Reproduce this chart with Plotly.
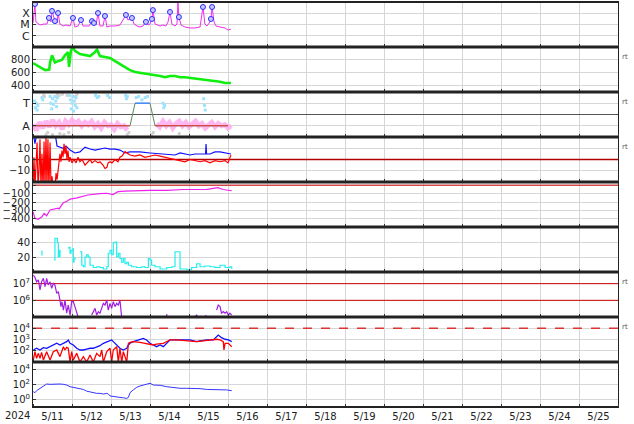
import plotly.graph_objects as go
from plotly.subplots import make_subplots
from datetime import datetime, timedelta

BASE = datetime(2024, 5, 11)
END = datetime(2024, 5, 26)

def T(hours):
    return [BASE + timedelta(hours=h) for h in hours]

# ---------------- data (hours after 2024-05-11 00:00) ----------------
xray_h = [0, 1.2, 1.8, 3.1, 4.3, 6.8, 8.6, 9.8, 11.1, 11.7, 12.9, 13.5, 14.8, 15.4, 16.6, 18.5, 20.3, 22.8, 24.6, 25.8,
          27.7, 29.5, 30.8, 32.6, 34.5, 36.3, 37.5, 38.8, 40.0, 41.2, 43.1, 44.3, 45.5, 47.4, 50.5, 53.5, 57.2, 58.5,
          60.9, 62.2, 64.0, 65.8, 67.7, 69.5, 70.8, 72.0, 73.2, 73.8, 75.1, 76.9, 78.2, 80.0, 81.8, 83.1, 84.3, 85.5,
          87.4, 88.6, 89.2, 89.8, 91.1, 93.5, 96.6, 99.7, 102.8, 104.6, 105.8, 107.1, 108.9, 109.5, 110.2, 111.4,
          112.6, 115.1, 118.2, 120.0, 121.8]
xray_v = [1.35e-5, 6.6e-4, 1.7e-5, 1.1e-5, 9e-6, 1.1e-5, 1.1e-5, 3.8e-5, 1.7e-5, 1.6e-4, 2.5e-5, 2.0e-5, 1.35e-5,
          1.05e-4, 1.1e-5, 7.4e-6, 9e-6, 7.4e-6, 3.8e-5, 6e-6, 7.4e-6, 2.5e-5, 7.4e-6, 7.4e-6, 7.4e-6, 2.0e-5,
          1.35e-5, 9e-6, 1.05e-4, 7.4e-6, 7.4e-6, 5.7e-5, 6e-6, 7.4e-6, 7.4e-6, 9e-6, 7e-5, 2.5e-5, 3.8e-5, 1.1e-5,
          7.4e-6, 6e-6, 7.4e-6, 1.7e-5, 9e-6, 1.1e-5, 3.1e-5, 1.9e-4, 1.1e-5, 9e-6, 7.4e-6, 9e-6, 7.4e-6, 1.7e-5,
          1.3e-4, 1.1e-5, 7.4e-6, 1.1e-5, 1e-3, 4.6e-5, 9e-6, 6e-6, 4.9e-6, 4.9e-6, 6e-6, 3.6e-4, 1.1e-5, 7.4e-6,
          1.7e-5, 3.1e-5, 3.6e-4, 1.7e-5, 7.4e-6, 6e-6, 4.9e-6, 3.2e-6, 4e-6]
flare_h = [1.2, 9.8, 11.7, 13.5, 15.4, 24.6, 29.5, 36.3, 37.5, 40.0, 44.3, 57.2, 60.9, 69.5, 73.2, 73.8, 84.3, 89.2,
           89.8, 104.6, 109.5, 110.2]
flare_v = [6.6e-4, 3.8e-5, 1.6e-4, 2.0e-5, 1.05e-4, 3.8e-5, 2.5e-5, 2.0e-5, 1.35e-5, 1.05e-4, 5.7e-5, 7e-5, 3.8e-5,
           1.7e-5, 3.1e-5, 1.9e-4, 1.3e-4, 1e-3, 4.6e-5, 3.6e-4, 3.1e-5, 3.6e-4]

speed_h = [0, 4.3, 7.4, 10.0, 10.5, 11.7, 12.3, 13.5, 15.4, 17.8, 19.7, 21.5, 22.2, 22.8, 23.4, 24.6, 25.8, 28.9, 32.0,
           35.1, 38.2, 39.4, 41.2, 44.3, 47.4, 50.5, 53.5, 56.6, 59.7, 62.8, 65.8, 68.9, 72.0, 75.1, 78.2, 81.2, 84.3,
           87.4, 90.5, 93.5, 96.6, 99.7, 102.8, 105.8, 108.9, 112.0, 115.1, 118.2, 121.8]
speed_v = [750, 690, 640, 650, 760, 870, 820, 760, 780, 800, 870, 920, 690, 900, 950, 990, 940, 890, 880, 860, 920, 960,
           860, 840, 830, 780, 730, 690, 640, 610, 600, 580, 570, 560, 550, 530, 550, 550, 530, 530, 520, 520, 500, 500,
           490, 470, 460, 440, 440]

tow_h = [1.0, 1.5, 2.0, 2.5, 3.0, 5.5, 6.0, 10.5, 11.0, 11.5, 12.0, 12.5, 13.5, 14.0, 14.5, 15.0, 22.5, 23.0, 23.5,
         24.0, 24.5, 25.0, 25.5, 26.0, 26.5, 27.0, 38.5, 39.5, 40.5, 46.0, 47.0, 57.0, 57.5, 58.0, 63.5, 65.0, 67.0,
         69.0, 70.5, 80.0, 80.5, 81.0, 105.0, 105.5, 106.0]
tow_v = [1.2, 0.6, 1.0, 0.4, 0.8, 1.5, 1.3, 1.6, 1.0, 0.5, 1.4, 0.9, 1.6, 1.2, 0.7, 1.5, 1.7, 1.3, 0.5, 1.0, 1.6, 0.3,
         1.2, 0.8, 1.5, 0.6, 1.7, 1.5, 1.6, 1.7, 1.5, 1.7, 1.4, 1.6, 1.5, 1.6, 1.3, 1.5, 1.6, 1.0, 0.6, 0.8, 1.4, 0.8,
         0.4]
away_h = [0, 2, 4, 6, 8, 10, 12, 14, 16, 18, 20, 22, 24, 26, 28, 30, 32, 34, 36, 38, 40, 42, 44, 46, 48, 50, 52, 54,
          56, 58, 67, 76, 78, 80, 82, 84, 86, 88, 90, 92, 94, 96, 98, 100, 102, 104, 106, 108, 110, 112, 114, 116, 118,
          120, 122]
away_v = [-0.9, -1.4, -0.7, -1.2, -0.6, -1.1, -0.5, -1.0, -0.7, -1.3, -0.6, -0.9, -0.5, -0.8, -0.6, -1.0, -0.7, -0.9,
          -0.6, -1.1, -0.8, -1.2, -0.7, -1.0, -0.9, -1.3, -0.8, -1.1, -1.0, -1.4, None, -0.8, -1.1, -0.6, -1.0, -0.7,
          -1.2, -0.8, -0.6, -1.0, -0.7, -1.1, -0.9, -0.6, -1.0, -0.8, -1.2, -0.9, -0.7, -1.1, -0.8, -1.0, -0.9, -1.2,
          -1.0]
gray_h = [6.5, 7.0, 15.0, 16.0, 18.0, 21.0, 26.0, 27.0, 8.0, 9.0, 12.0, 16.5, 19.0, 22.0, 58.0, 59.0, 73.0, 74.0, 90.0]
gray_v = [1.7, 1.6, 1.8, 1.7, 1.8, 1.7, 1.6, 1.8, -1.8, -1.6, -1.8, -1.7, -1.8, -1.6, -1.8, -1.6, -1.8, -1.6, -1.7]
sector_h = [0, 59.7, 62.8, 72.0, 75.1, 120.0]
sector_v = [-1, -1, 1, 1, -1, -1]

bt_h = [0, 1.2, 2.5, 4.3, 6.8, 9.2, 11.1, 13.5, 14.8, 16.6, 18.5, 20.3, 22.2, 22.8, 25.8, 28.9, 32.0, 35.1, 38.2, 41.2,
        44.3, 47.4, 50.5, 53.5, 56.6, 59.7, 65.8, 72.0, 78.2, 84.3, 87.4, 90.5, 93.5, 96.6, 99.7, 102.8, 106.2, 106.5,
        106.8, 108.9, 112.0, 115.1, 118.2, 121.8]
bt_v = [25, 14, 24, 22, 25, 20, 22, 24, 12, 11, 10, 12, 9, 8.4, 5.8, 6.7, 11, 9.3, 8.4, 9.3, 10.2, 9.3, 9.3, 8.4, 5.8,
        6.7, 6.7, 5.8, 4.9, 4, 4, 5.8, 4.9, 4, 4.9, 4.9, 4.9, 13.8, 4.9, 4.9, 6.7, 6.7, 5.8, 4.9]
bz_h = [0, 0.6, 1.2, 1.8, 2.5, 3.1, 3.7, 4.3, 4.9, 5.5, 6.2, 6.8, 7.4, 8.0, 8.6, 9.2, 9.8, 10.5, 11.1, 11.7, 12.3, 13.5,
        14.2, 14.8, 15.4, 16.0, 16.6, 17.2, 17.8, 18.5, 19.1, 19.7, 20.3, 20.9, 21.5, 22.2, 22.8, 24.0, 25.2, 26.5,
        27.7, 28.9, 30.2, 32.0, 33.8, 35.1, 36.3, 38.2, 40.0, 41.2, 43.1, 44.3, 45.5, 46.2, 47.4, 48.6, 50.5, 52.3,
        53.5, 54.8, 56.6, 59.7, 62.8, 65.8, 68.9, 72.0, 75.1, 78.2, 81.2, 84.3, 87.4, 90.5, 93.5, 96.6, 99.7, 102.8,
        105.8, 108.9, 112.0, 115.1, 118.2, 120.0, 121.8]
bz_v = [-25, 2, -25, -5, 15, -25, -10, 18, -25, 5, -25, 16, -25, 22, -25, 18, -25, 15, -25, -15, -25, -25, -12, -18,
        -8, 0, 5, -2, 8, 2, 14, 5, 12, 0, 8, -2, 2, -3, 0, -3, 2, -2, 0, -5, -2, 0, -3, -1, -3, -2, -5, -8, -7, -3, -2,
        -3, 0, -2, 2, 3, 7, 4, 3, 4, 2, 3, 4, 3, 2, 1, 0, -1, -2, 0, -1, -2, -1, -3, -1, -2, -1, -3, 4]

dst_h = [0, 1.2, 3.1, 5.5, 6.8, 8.4, 10.5, 12.3, 15.4, 16.0, 18.5, 20.9, 22.8, 27.1, 30.8, 33.8, 41.2, 45.5, 49.2, 52.3,
         56.6, 61.5, 72.0, 82.5, 92.3, 102.8, 107.1, 113.8, 116.9, 122.3]
dst_v = [-317, -396, -408, -377, -336, -365, -296, -290, -273, -285, -213, -190, -165, -150, -136, -116, -100, -95,
         -110, -76, -70, -66, -60, -60, -50, -50, -48, -28, -50, -65]

ae_h = [5.2, 5.5, 6.0, 12.8, 13.5, 14.6, 15.0, 15.6, 16.2, 16.6, 17.5, 21.5, 22.2, 22.8, 23.4, 24.4, 24.8, 25.2, 25.8,
        27.0, 28.9, 30.0, 31.0, 32.0, 33.0, 34.0, 35.1, 37.1, 39.2, 41.2, 43.3, 45.4, 46.3, 47.4, 48.4, 49.4, 50.5,
        51.5, 52.5, 53.5, 54.6, 55.6, 56.6, 57.7, 58.7, 60.7, 63.8, 66.9, 68.9, 71.0, 72.0, 73.0, 75.1, 78.2, 82.3,
        85.4, 87.4, 89.5, 90.5, 94.6, 97.6, 100.7, 102.8, 105.8, 108.9, 112.0, 115.1, 118.2, 121.2, 122.3]
ae_v = [28, 22, None, 16, 45, 45, 39, 20, 29, 20, None, 32, 33, 25, 29, 31, 13, 17, 20, None, 27, 9, 7, 20, 23, 20, 9,
        6, 7, 6, 4, 7, 25, 29, 23, 39, 40, 20, 25, 18, 13, 18, 11, 13, 9, 7, 6, 7, 6, 18, 16, 9, 7, 4, 6, 7, 27, 27, 4,
        3, 6, 11, 7, 8, 7, 6, 9, 6, 7, 4]

el_h = [0.2, 1.2, 2.2, 3.3, 4.3, 5.3, 6.4, 7.4, 8.4, 9.4, 10.5, 11.5, 12.5, 13.5, 14.6, 15.6, 16.6, 17.2, 17.8, 18.7,
        19.7, 20.7, 21.7, 22.8, 23.8, 24.8, 25.8, 26.9, 27.9, 32.0, 36.1, 37.1, 38.2, 39.2, 40.2, 41.2, 42.3, 43.3,
        44.3, 45.4, 46.3, 47.4, 48.4, 49.4, 50.5, 51.5, 52.5, 53.5, 54.6, 70.0, 82.2, 82.4, 90.0, 100.0, 100.6, 101.2,
        103.0, 106.0, 106.8, 110.0, 113.0, 114.0, 115.1, 116.0, 117.1, 118.2, 119.2, 120.2, 121.2, 122.3]
el_v = [3.3e7, 2.4e7, 1.3e7, 1.7e7, 4.2e6, 1.3e7, 2.1e7, 6.6e6, 2.1e7, 8.3e6, 1.3e7, 5.2e6, 1.05e7, 8.3e6, 2.6e6,
        3.3e6, 1.05e6, 4.2e5, 8.3e5, 2.6e5, 1.05e6, 1.7e5, 5.2e5, 1.3e5, 8.3e5, 8.3e5, 4.2e5, 2.1e5, 9e4, None, 1.3e5,
        2.1e5, 3.3e5, 1.3e5, 2.1e5, 1.7e5, 3.3e5, 6.6e5, 5.2e5, 1.05e6, 2.6e5, 6.6e5, 3.3e5, 8.3e5, 4.2e5, 6.6e5,
        5.2e5, 1.05e6, 9e4, None, 1.1e5, 1.5e5, None, 1.2e5, 1.3e5, 1.1e5, None, 1.2e5, 1.2e5, None, 2.6e5, 5.2e5,
        4.2e5, 1.7e5, 2.1e5, 1.7e5, 2.1e5, 1.3e5, 1.7e5, 1.3e5]

pb_h = [0.2, 2.2, 4.3, 6.4, 8.4, 10.5, 12.5, 14.6, 16.6, 18.7, 20.7, 21.7, 22.8, 24.8, 26.9, 28.9, 31.0, 33.0, 35.1,
        37.1, 39.2, 41.2, 43.3, 45.4, 47.4, 48.4, 49.4, 51.5, 53.5, 55.6, 57.7, 58.7, 59.7, 61.7, 64.8, 67.9, 69.9,
        72.0, 74.0, 76.0, 78.2, 80.2, 83.3, 84.3, 88.4, 92.5, 96.6, 100.7, 102.8, 106.9, 111.0, 114.0, 116.0, 118.2,
        120.2, 122.3]
pb_v = [117, 166, 117, 186, 166, 230, 325, 460, 325, 460, 650, 910, 460, 325, 166, 117, 117, 140, 166, 166, 230, 280,
        460, 650, 770, 910, 650, 325, 166, 117, 166, 325, 460, 650, 910, 1260, 910, 460, 325, 230, 325, 230, 650, 910,
        910, 910, 910, 650, 770, 910, 910, 2500, 1450, 1050, 910, 650]
pr_h = [0.2, 1.2, 2.2, 3.3, 4.3, 5.3, 6.4, 8.4, 10.5, 12.5, 14.6, 16.6, 18.7, 19.7, 20.7, 21.7, 22.8, 23.8, 24.8, 26.9,
        28.9, 31.0, 33.0, 35.1, 37.1, 39.2, 41.2, 42.3, 43.3, 45.4, 47.4, 48.4, 49.4, 51.5, 52.5, 53.5, 54.6, 55.6,
        57.7, 58.7, 59.7, 61.7, 65.8, 69.9, 74.0, 76.0, 80.2, 83.3, 84.3, 88.4, 92.5, 96.6, 100.7, 104.8, 108.9,
        113.0, 115.1, 117.1, 117.5, 118.2, 120.2, 122.3]
pr_v = [15, 83, 21, 59, 21, 72, 15, 83, 15, 83, 117, 30, 230, 117, 200, 166, 10, 83, 15, 59, 10, 30, 10, 42, 10, 59,
        30, 117, 10, 83, 166, 10, 117, 230, 10, 166, 10, 83, 10, 460, 560, 650, 560, 460, 325, 390, 460, 770, 910, 910,
        820, 770, 650, 770, 910, 1050, 910, 650, 117, 460, 460, 230]

p9_h = [0.2, 1.2, 2.2, 4.3, 6.4, 8.4, 10.5, 12.5, 14.6, 16.6, 18.7, 20.7, 22.8, 24.8, 26.9, 28.9, 31.0, 33.0, 35.1,
        37.1, 39.2, 41.2, 43.3, 45.4, 46.3, 47.4, 49.4, 51.5, 53.5, 55.6, 57.7, 58.7, 59.7, 61.7, 63.8, 65.8, 67.9,
        69.9, 72.0, 74.0, 76.0, 78.2, 82.3, 86.4, 90.5, 94.6, 98.7, 102.8, 106.9, 111.0, 115.1, 119.2, 122.3]
p9_v = [11, 8, 15, 31, 63, 117, 105, 117, 105, 117, 105, 85, 51, 42, 31, 25, 22, 13, 10, 8, 6.6, 6.6, 5.4, 6.6, 5.4, 3,
        2.4, 2.4, 1.9, 1.7, 1.4, 1.9, 8, 19, 42, 63, 85, 117, 145, 85, 85, 78, 51, 38, 31, 31, 31, 28, 22, 22, 19, 19,
        15]

day_labels = ["5/11", "5/12", "5/13", "5/14", "5/15", "5/16", "5/17", "5/18", "5/19", "5/20", "5/21", "5/22",
              "5/23", "5/24", "5/25"]

# ---------------- figure ----------------
fig = make_subplots(rows=9, cols=1, shared_xaxes=True, vertical_spacing=0)

def line(h, v, row, color, width=1.0, shape="linear"):
    fig.add_trace(go.Scatter(x=T(h), y=v, mode="lines", line=dict(color=color, width=width, shape=shape),
                             hoverinfo="skip", showlegend=False), row=row, col=1)

def hline(val, row, color, width=1.0, dash="solid"):
    fig.add_trace(go.Scatter(x=[BASE, END], y=[val, val], mode="lines",
                             line=dict(color=color, width=width, dash=dash),
                             hoverinfo="skip", showlegend=False), row=row, col=1)

# 1 X-ray
line(xray_h, xray_v, 1, "#f030f0", 1.0)
fig.add_trace(go.Scatter(x=T(flare_h), y=flare_v, mode="markers", cliponaxis=False,
                         marker=dict(size=5, color="#c8c8ff", line=dict(color="#2a2aff", width=1)),
                         hoverinfo="skip", showlegend=False), row=1, col=1)
# 2 speed
line(speed_h, speed_v, 2, "#10ee10", 2.6)
# 3 sector
fig.add_trace(go.Scatter(x=T(gray_h), y=gray_v, mode="markers", marker=dict(size=3, color="#d0d0d0", symbol="square"),
                         hoverinfo="skip", showlegend=False), row=3, col=1)
line(away_h, away_v, 3, "rgba(255,170,240,0.85)", 5)
fig.add_trace(go.Scatter(x=T(tow_h), y=tow_v, mode="markers", marker=dict(size=3, color="#9fe2fb", symbol="square"),
                         hoverinfo="skip", showlegend=False), row=3, col=1)
line(sector_h, sector_v, 3, "#5a8a5a", 1.0)
line(sector_h[0:2], sector_v[0:2], 3, "#ee3333", 1.2)
line(sector_h[2:4], sector_v[2:4], 3, "#4a8cff", 1.5)
line(sector_h[4:6], sector_v[4:6], 3, "#ee3333", 1.2)
# 4 IMF
hline(0, 4, "#b00000", 1.5)
line(bt_h, bt_v, 4, "#1010ff", 1.2)
line(bz_h, bz_v, 4, "#ff0000", 1.2)
# 5 Dst
hline(0, 5, "#d04848", 1.5)
line(dst_h, dst_v, 5, "#ee22ee", 1.2)
# 6
line(ae_h, ae_v, 6, "#22eeee", 1.2, "hv")
# 7 electrons
hline(1e7, 7, "#cc0000", 1)
hline(1e6, 7, "#cc0000", 1)
line(el_h, el_v, 7, "#a020e0", 1.2)
# 8 protons
hline(1e4, 8, "#dd3333", 1.5, "dash")
line(pb_h, pb_v, 8, "#1010ff", 1.3)
line(pr_h, pr_v, 8, "#ff0000", 1.3)
# 9
line(p9_h, p9_v, 9, "#3535ff", 1.0)

grid = "#d6d6d6"
axis_common = dict(showline=True, linecolor="#222", linewidth=1, mirror=True, ticks="inside", ticklen=3,
                   tickcolor="#333", showgrid=True, gridcolor=grid, gridwidth=1, zeroline=False,
                   tickfont=dict(family="DejaVu Sans", size=10, color="#222"))

yconf = {
    1: dict(type="log", range=[-7, -3], tickvals=[1e-6, 1e-5, 1e-4], ticktext=["C", "M", "X"],
            tickfont=dict(family="DejaVu Sans", size=11, color="#222")),
    2: dict(range=[300, 1000], tickvals=[400, 600, 800]),
    3: dict(range=[-2, 2], tickvals=[-1, 1], ticktext=["A", "T"], zeroline=True, zerolinecolor="#555",
            zerolinewidth=1, tickfont=dict(family="DejaVu Sans", size=11, color="#222")),
    4: dict(range=[-20, 20], tickvals=[-10, 0, 10], ticktext=["\u221210", "0", "10"]),
    5: dict(range=[-500, 40], tickvals=[-400, -300, -200, -100, 0],
            ticktext=["\u2212400", "\u2212300", "\u2212200", "\u2212100", "0"]),
    6: dict(range=[0, 60], tickvals=[20, 40]),
    7: dict(type="log", range=[5, 7.7], tickvals=[1e6, 1e7], ticktext=["10<sup>6</sup>", "10<sup>7</sup>"]),
    8: dict(type="log", range=[1, 5], tickvals=[1e2, 1e3, 1e4],
            ticktext=["10<sup>2</sup>", "10<sup>3</sup>", "10<sup>4</sup>"]),
    9: dict(type="log", range=[-1, 5], tickvals=[1, 1e2, 1e4],
            ticktext=["10<sup>0</sup>", "10<sup>2</sup>", "10<sup>4</sup>"]),
}

noons = [BASE + timedelta(hours=12 + 24 * i) for i in range(15)]
mids = [BASE + timedelta(days=i) for i in range(16)]

for r in range(1, 10):
    yc = dict(axis_common)
    yc.update(yconf[r])
    fig.update_yaxes(row=r, col=1, **yc)
    fig.update_xaxes(row=r, col=1, type="date", range=[BASE, END], showline=True, linecolor="#222", linewidth=1,
                     mirror=True, showgrid=False, zeroline=False, tickmode="array", tickvals=noons,
                     ticktext=day_labels, ticks="", showticklabels=(r == 9), automargin=False,
                     tickfont=dict(family="DejaVu Sans", size=10, color="#222"),
                     minor=dict(tickmode="array", tickvals=mids, showgrid=True, gridcolor=grid, gridwidth=1,
                                ticks="inside", ticklen=3, tickcolor="#333"))
fig.update_yaxes(automargin=False)

shapes = []
for k in range(10):
    w = 2 if k in (0, 9) else 3
    shapes.append(dict(type="line", xref="paper", yref="paper", x0=0, x1=1, y0=k / 9, y1=k / 9,
                       line=dict(color="#222", width=w)))

W, H = 634, 424
L, R, TOP, B = 33, 16, 2, 17
pw, ph = W - L - R, H - TOP - B

def px(x):
    return (x - L) / pw

def py(y):
    return (H - B - y) / ph

annotations = [dict(x=px(17), y=py(416), xref="paper", yref="paper", text="2024", showarrow=False,
                    xanchor="center", yanchor="middle",
                    font=dict(family="DejaVu Sans", size=10, color="#222"))]
for yy in [57, 102, 147, 282, 327]:
    annotations.append(dict(x=px(625), y=py(yy), xref="paper", yref="paper", text="rt", showarrow=False,
                            xanchor="center", yanchor="middle",
                            font=dict(family="DejaVu Sans", size=7, color="#555")))

fig.update_layout(width=W, height=H, margin=dict(l=L, r=R, t=TOP, b=B), paper_bgcolor="white",
                  plot_bgcolor="white", showlegend=False, shapes=shapes, annotations=annotations)

fig.write_html("out.html", config={"displayModeBar": False},
               post_script="document.body.style.margin='0';document.body.style.overflow='hidden';")
